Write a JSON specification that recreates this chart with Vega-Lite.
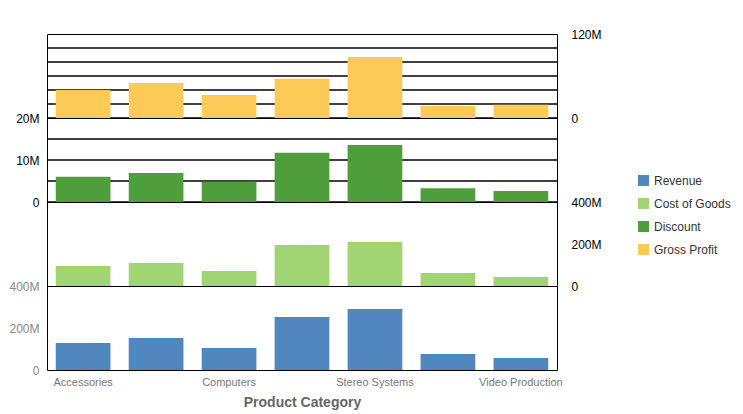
{
  "$schema": "https://vega.github.io/schema/vega-lite/v6.json",
  "padding": {"top": 27, "left": 8, "right": 5, "bottom": 5},
  "spacing": 0,
  "bounds": "flush",
  "data": {"values": [
    {"cat": "Accessories", "m": "Revenue", "v": 129000000},
    {"cat": "Camcorders", "m": "Revenue", "v": 152000000},
    {"cat": "Computers", "m": "Revenue", "v": 105000000},
    {"cat": "Media Players", "m": "Revenue", "v": 252000000},
    {"cat": "Stereo Systems", "m": "Revenue", "v": 290000000},
    {"cat": "Televisions", "m": "Revenue", "v": 76000000},
    {"cat": "Video Production", "m": "Revenue", "v": 57000000},
    {"cat": "Accessories", "m": "Cost of Goods", "v": 95000000},
    {"cat": "Camcorders", "m": "Cost of Goods", "v": 110000000},
    {"cat": "Computers", "m": "Cost of Goods", "v": 71000000},
    {"cat": "Media Players", "m": "Cost of Goods", "v": 195000000},
    {"cat": "Stereo Systems", "m": "Cost of Goods", "v": 210000000},
    {"cat": "Televisions", "m": "Cost of Goods", "v": 62000000},
    {"cat": "Video Production", "m": "Cost of Goods", "v": 43000000},
    {"cat": "Accessories", "m": "Discount", "v": 6000000},
    {"cat": "Camcorders", "m": "Discount", "v": 6900000},
    {"cat": "Computers", "m": "Discount", "v": 4800000},
    {"cat": "Media Players", "m": "Discount", "v": 11700000},
    {"cat": "Stereo Systems", "m": "Discount", "v": 13600000},
    {"cat": "Televisions", "m": "Discount", "v": 3300000},
    {"cat": "Video Production", "m": "Discount", "v": 2600000},
    {"cat": "Accessories", "m": "Gross Profit", "v": 40000000},
    {"cat": "Camcorders", "m": "Gross Profit", "v": 50000000},
    {"cat": "Computers", "m": "Gross Profit", "v": 33000000},
    {"cat": "Media Players", "m": "Gross Profit", "v": 56000000},
    {"cat": "Stereo Systems", "m": "Gross Profit", "v": 87000000},
    {"cat": "Televisions", "m": "Gross Profit", "v": 17000000},
    {"cat": "Video Production", "m": "Gross Profit", "v": 19000000}
  ]},
  "config": {
    "font": "Liberation Sans",
    "view": {"stroke": "#000", "strokeWidth": 1},
    "axis": {"labelFontSize": 12, "labelColor": "#000", "domain": false, "ticks": false, "labelPadding": 8, "gridColor": "#000", "gridOpacity": 1, "gridWidth": 1.5},
    "bar": {"opacity": 1},
    "legend": {"orient": "none", "legendX": 590, "legendY": 140, "title": null, "symbolType": "square", "symbolSize": 120, "labelFontSize": 12, "labelColor": "#333", "rowPadding": 10, "labelLimit": 200}
  },
  "vconcat": [
    {
      "width": 510, "height": 84,
      "transform": [{"filter": "datum.m == 'Gross Profit'"}],
      "layer": [
        {
          "mark": {"type": "rule", "color": "#000", "strokeWidth": 1.5},
          "data": {"values": [{"g": 20000000}, {"g": 40000000}, {"g": 60000000}, {"g": 80000000}, {"g": 100000000}, {"g": 0}]},
          "encoding": {"y": {"field": "g", "type": "quantitative"}}
        },
        {
          "mark": {"type": "bar"},
          "encoding": {
            "x": {"field": "cat", "type": "nominal", "sort": null, "axis": null, "scale": {"paddingInner": 0.25, "paddingOuter": 0.12}},
            "y": {"field": "v", "type": "quantitative", "scale": {"domain": [0, 120000000]},
                  "axis": {"orient": "right", "title": null, "labelExpr": "datum.value == 0 ? '0' : format(datum.value, '~s')", "values": [0, 40000000, 80000000, 120000000], "grid": false, "labelPadding": 14}},
            "color": {"field": "m", "type": "nominal", "scale": {"domain": ["Revenue", "Cost of Goods", "Discount", "Gross Profit"], "range": ["#4f87be", "#a1d574", "#4e9e3b", "#fccb57"]}}
          }
        }
      ]
    },
    {
      "width": 510, "height": 84,
      "transform": [{"filter": "datum.m == 'Discount'"}],
      "layer": [
        {
          "mark": {"type": "rule", "color": "#000", "strokeWidth": 1.5},
          "data": {"values": [{"g": 5000000}, {"g": 10000000}, {"g": 15000000}, {"g": 0}]},
          "encoding": {"y": {"field": "g", "type": "quantitative"}}
        },
        {
          "mark": {"type": "bar"},
          "encoding": {
            "x": {"field": "cat", "type": "nominal", "sort": null, "axis": null, "scale": {"paddingInner": 0.25, "paddingOuter": 0.12}},
            "y": {"field": "v", "type": "quantitative", "scale": {"domain": [0, 20000000]},
                  "axis": {"orient": "left", "title": null, "labelExpr": "datum.value == 0 ? '0' : format(datum.value, '~s')", "values": [0, 10000000, 20000000], "grid": false}},
            "color": {"field": "m", "type": "nominal"}
          }
        }
      ]
    },
    {
      "width": 510, "height": 84,
      "transform": [{"filter": "datum.m == 'Cost of Goods'"}],
      "mark": {"type": "bar"},
      "encoding": {
        "x": {"field": "cat", "type": "nominal", "sort": null, "axis": null, "scale": {"paddingInner": 0.25, "paddingOuter": 0.12}},
        "y": {"field": "v", "type": "quantitative", "scale": {"domain": [0, 400000000]},
              "axis": {"orient": "right", "title": null, "labelExpr": "datum.value == 0 ? '0' : format(datum.value, '~s')", "values": [0, 200000000, 400000000], "grid": false, "labelPadding": 14}},
        "color": {"field": "m", "type": "nominal"}
      }
    },
    {
      "width": 510, "height": 84,
      "transform": [{"filter": "datum.m == 'Revenue'"}],
      "mark": {"type": "bar"},
      "encoding": {
        "x": {"field": "cat", "type": "nominal", "sort": null, "scale": {"paddingInner": 0.25, "paddingOuter": 0.12},
              "axis": {"title": "Product Category", "titleColor": "#666", "titleFontSize": 14, "titleFontWeight": "bold", "titlePadding": 8, "labelAngle": 0, "labelColor": "#777", "labelFontSize": 11, "labelPadding": 6,
                       "values": ["Accessories", "Computers", "Stereo Systems", "Video Production"], "labelBound": false}},
        "y": {"field": "v", "type": "quantitative", "scale": {"domain": [0, 400000000]},
              "axis": {"orient": "left", "title": null, "labelExpr": "datum.value == 0 ? '0' : format(datum.value, '~s')", "values": [0, 200000000, 400000000], "grid": false, "labelColor": "#888"}},
        "color": {"field": "m", "type": "nominal"}
      }
    }
  ],
  "resolve": {"scale": {"y": "independent"}}
}
